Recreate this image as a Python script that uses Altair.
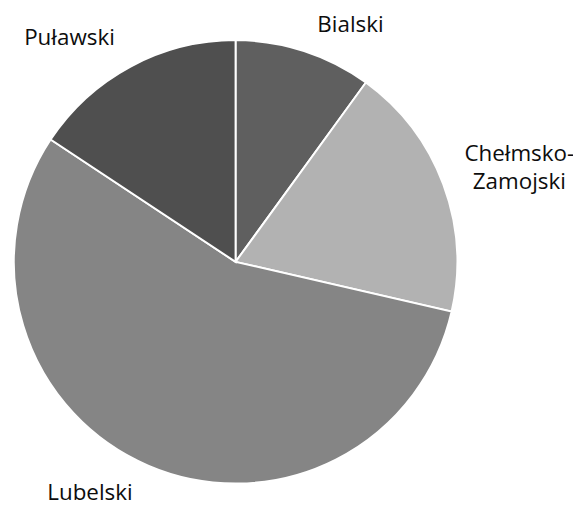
import altair as alt
import pandas as pd

categories = ["Bialski", "Chełmsko-Zamojski", "Lubelski", "Puławski"]
labels = ["Bialski", "Chełmsko-\nZamojski", "Lubelski", "Puławski"]
values = [10.0, 18.6, 55.7, 15.7]
colors = ["#5f5f5f", "#b2b2b2", "#858585", "#4f4f4f"]

df = pd.DataFrame({"cat": categories, "label": labels, "val": values,
                   "idx": list(range(len(categories)))})

base = alt.Chart(df).encode(
    theta=alt.Theta("val:Q", stack=True),
    order=alt.Order("idx:Q"),
)

pie = base.mark_arc(outerRadius=228, stroke="white", strokeWidth=2).encode(
    color=alt.Color("cat:N", scale=alt.Scale(domain=categories, range=colors), legend=None)
)

# label placement per category: (radius, dx, dy)
place = {
    "Bialski": (253, 40, -3),
    "Chełmsko-Zamojski": (303, 8, -4),
    "Lubelski": (253, -50, 5),
    "Puławski": (253, -51, -7),
}

layers = [pie]
for c in categories:
    r, dx, dy = place[c]
    layers.append(
        base.mark_text(radius=r, dx=dx, dy=dy, font="Open Sans", fontSize=23,
                       color="#0d0d0d", lineBreak="\n", lineHeight=28,
                       align="center", baseline="middle").encode(
            text=alt.condition(alt.datum.cat == c, "label:N", alt.value(""))
        )
    )

chart = alt.layer(*layers).properties(
    width=448, height=448,
    autosize=alt.AutoSizeParams(type="none"),
    padding={"left": 10, "top": 30, "right": 123, "bottom": 20},
).configure_view(stroke=None)

chart.save("out.html", embed_options={"renderer": "svg", "actions": False})
